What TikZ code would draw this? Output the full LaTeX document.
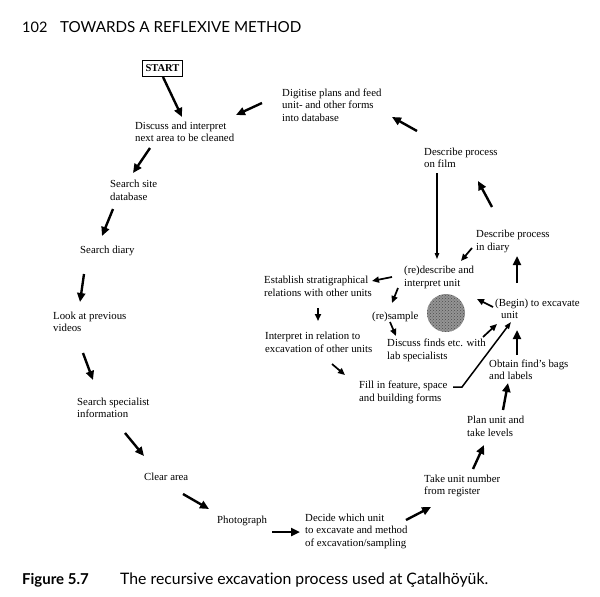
\documentclass[tikz,border=0pt]{standalone}
\usepackage{fontspec}
\setmainfont{Liberation Serif}
\newfontfamily\gillfont[Ligatures=NoCommon]{Lato}
\usetikzlibrary{arrows.meta,calc,patterns}
\tikzset{
  lbl/.style={anchor=west,inner sep=0pt,align=left,font=\fontsize{10.8}{12.5}\selectfont},
  arr/.style={line width=2.4pt,-{Triangle[length=9pt,width=8pt]}},
  sarr/.style={line width=1.7pt,-{Triangle[length=7pt,width=6pt]}},
  thinarr/.style={line width=1.1pt,-{Triangle[length=6pt,width=4.5pt]}},
  midarr/.style={line width=1.5pt,-{Triangle[length=7pt,width=5pt]}},
  startbox/.style={draw,line width=1pt,inner xsep=3.5pt,inner ysep=4pt,font=\fontsize{10.5}{12}\selectfont\bfseries},
  hdr/.style={anchor=base west,inner sep=0pt,font=\gillfont\fontsize{15.2}{17}\selectfont},
  captext/.style={anchor=base west,inner sep=0pt,font=\gillfont\fontsize{15.8}{17}\selectfont},
}
\begin{document}
\begin{tikzpicture}[x=1pt,y=-1pt]
\useasboundingbox (0,0) rectangle (600,597);
\fill[white] (0,0) rectangle (600,597);
% header and caption
\node[hdr,font=\gillfont\fontsize{14.5}{17}\selectfont] (pnum) at (22,32) {102};
\node[hdr] (htitle) at (60,32) {TOWARDS A REFLEXIVE METHOD};
\node[captext,font=\gillfont\bfseries\fontsize{15}{17}\selectfont] (fignum) at (22,584) {Figure 5.7};
\node[captext] (figcap) at (120,584) {The recursive excavation process used at Çatalhöyük.};
% nodes
\node[startbox] (start) at (162.5,68.5) {START};
\node[lbl] (disc) at (135,132) {Discuss and interpret\\next area to be cleaned};
\node[lbl] (digit) at (282,105) {Digitise plans and feed\\unit- and other forms\\into database};
\node[lbl] (film) at (424,158) {Describe process\\on film};
\node[lbl] (diary) at (476,241.5) {Describe process\\in diary};
\node[lbl] (redesc) at (404,277.5) {(re)describe and\\interpret unit};
\node[lbl] (estab) at (264,286.5) {Establish stratigraphical\\relations with other units};
\node[lbl] (interp) at (265,342.5) {Interpret in relation to\\excavation of other units};
\node[lbl] (fill) at (359,392.5) {Fill in feature, space\\and building forms};
\node[lbl] (begin) at (495,309) {(Begin) to excavate\\\hspace{6pt}unit};
\node[lbl] (resample) at (372,317) {(re)sample};
\node[lbl] (finds) at (387,350.5) {Discuss finds etc. with\\lab specialists};
\node[lbl] (obtain) at (489,369.5) {Obtain find's bags\\and labels};
\node[lbl] (plan) at (467,426.5) {Plan unit and\\take levels};
\node[lbl] (take) at (424,486) {Take unit number\\from register};
\node[lbl] (decide) at (305,531) {Decide which unit\\to excavate and method\\of excavation/sampling};
\node[lbl] (photo) at (217,521) {Photograph};
\node[lbl] (clear) at (144,477) {Clear area};
\node[lbl] (spec) at (77,408) {Search specialist\\information};
\node[lbl] (look) at (53,322) {Look at previous\\videos};
\node[lbl] (sdiary) at (80,251) {Search diary};
\node[lbl] (ssite) at (110,190.5) {Search site\\database};
% central sphere
\coordinate (ball) at (446,313);
\fill[black!42] (ball) circle (19);
\fill[pattern=crosshatch dots,pattern color=black!70] (ball) circle (19);
% connectors
\draw[arr] ($(start.center)+(0.5,8.5)$) -- ($(disc.west)+(47,-15)$);
\draw[arr] ($(disc.west)+(15,16)$) -- ($(ssite.west)+(23,-17.5)$);
\draw[arr] ($(ssite.west)+(3,18.5)$) -- ($(sdiary.west)+(22,-15)$);
\draw[arr] ($(sdiary.west)+(4,23)$) -- ($(look.west)+(27,-20)$);
\draw[arr] ($(look.west)+(30,31)$) -- ($(spec.west)+(16,-28)$);
\draw[arr] ($(spec.west)+(48,25)$) -- ($(clear.west)+(0,-21)$);
\draw[arr] ($(clear.west)+(39,17)$) -- ($(photo.west)+(-8,-12)$);
\draw[arr] ($(photo.west)+(55,11)$) -- ($(decide.west)+(-5,1)$);
\draw[arr] ($(decide.west)+(101,-11)$) -- ($(take.west)+(7,21)$);
\draw[arr] ($(take.west)+(49,-17)$) -- ($(plan.west)+(17,18.5)$);
\draw[arr] ($(plan.west)+(36,-16.5)$) -- ($(obtain.west)+(19,13.5)$);
\draw[arr] ($(obtain.west)+(28,-14.5)$) -- ($(begin.west)+(22,21)$);
\draw[arr] ($(begin.west)+(22,-26)$) -- ($(diary.west)+(41,14.5)$);
\draw[arr] ($(diary.west)+(16,-34.5)$) -- ($(film.west)+(54,23)$);
\draw[arr] ($(film.west)+(-7,-27)$) -- ($(digit.west)+(110,12)$);
\draw[arr] ($(digit.west)+(-20,-2)$) -- ($(disc.west)+(101,-17)$);
\draw[thinarr] ($(film.west)+(13,15)$) -- ($(redesc.west)+(33,-18.5)$);
\draw[sarr] ($(diary.west)+(-4,6.5)$) -- ($(redesc.west)+(57,-16.5)$);
\draw[sarr] ($(redesc.west)+(-12,-0.5)$) -- ($(estab.west)+(108,-5.5)$);
\draw[sarr] ($(estab.west)+(54,21.5)$) -- ($(interp.west)+(53,-21.5)$);
\draw[sarr] ($(interp.west)+(67,21.5)$) -- ($(fill.west)+(-14,-17.5)$);
\draw[midarr] ($(fill.west)+(94,-5.5)$) -- ++(9,0) -- ($(begin.west)+(16,13)$);
\draw[sarr] ($(begin.west)+(-2,-2)$) -- ($(redesc.west)+(73,21.5)$);
\draw[sarr] ($(redesc.west)+(-6,10.5)$) -- ($(resample.west)+(20,-14)$);
\draw[sarr] ($(resample.west)+(18,5)$) -- ($(finds.west)+(9,-14.5)$);
\draw[sarr] ($(finds.west)+(96,-13.5)$) -- ($(begin.west)+(2,15)$);
\end{tikzpicture}
\end{document}
